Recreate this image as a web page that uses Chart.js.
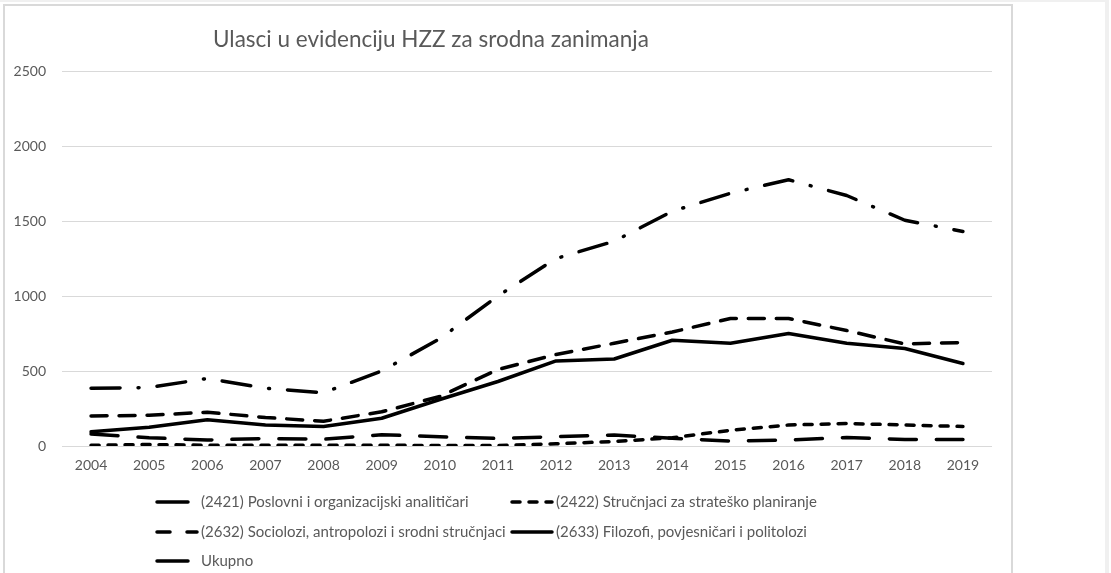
<!DOCTYPE html>
<html>
<head>
<meta charset="utf-8">
<title>Ulasci u evidenciju HZZ za srodna zanimanja</title>
<script src="https://cdn.jsdelivr.net/npm/chart.js@4.4.1/dist/chart.umd.min.js"></script>
<style>
  html, body { margin: 0; padding: 0; background: #fff; }
  body { width: 1111px; height: 573px; position: relative; overflow: hidden; }
  #edge { position: absolute; left: 0; top: 0; width: 1109px; height: 573px; box-sizing: border-box;
          border-top: 2px solid #f0f0f0; border-right: 4px solid #f0f0f0; }
  #frame { position: absolute; left: 3px; top: 4px; width: 1006px; height: 600px;
           border: 2px solid #d9d9d9; border-bottom: none; }
  canvas { position: absolute; left: 0; top: 0; }
</style>
</head>
<body>
<div id="edge"></div>
<div id="frame"></div>
<canvas id="chart" width="1111" height="573"></canvas>
<script>
// values
var years = ['2004', '2005', '2006', '2007', '2008', '2009', '2010', '2011',
             '2012', '2013', '2014', '2015', '2016', '2017', '2018', '2019'];
var poslovni  = [200, 205, 225, 190, 165, 228, 330, 510, 610, 685, 760, 850, 850, 770, 680, 690];
var strateg   = [5, 10, 5, 5, 5, 5, 3, 3, 15, 30, 55, 105, 140, 150, 140, 130];
var sociolozi = [80, 55, 40, 50, 45, 75, 62, 50, 62, 73, 51, 33, 40, 56, 44, 44];
var filozofi  = [95, 125, 175, 140, 130, 185, 310, 430, 567, 580, 705, 685, 750, 685, 650, 550];
var ukupno    = [385, 390, 450, 385, 355, 500, 715, 1000, 1250, 1365, 1565, 1685, 1775, 1670, 1505, 1430];

var seriesNames = [
  '(2421) Poslovni i organizacijski analitičari',
  '(2422) Stručnjaci za strateško planiranje',
  '(2632) Sociolozi, antropolozi i srodni stručnjaci',
  '(2633) Filozofi, povjesničari i politolozi',
  'Ukupno'
];
var chartTitle = 'Ulasci u evidenciju HZZ za srodna zanimanja';
var yMax = 2500;
var yStep = 500;

var textColor = '#595959';
var gridColor = '#d9d9d9';

// legend slots [x, y] - excel puts it in two columns
var legendSlots = [[155, 502], [510, 502], [155, 532], [510, 532], [155, 561]];

function lineSet(label, values, dash, legendDash) {
  return {
    label: label,
    data: values,
    borderColor: '#000',
    backgroundColor: '#000',
    borderWidth: 3.5,
    borderDash: dash,
    legendDash: legendDash,
    borderCapStyle: 'round',
    borderJoinStyle: 'round',
    pointRadius: 0,
    pointHoverRadius: 0,
    tension: 0,
    fill: false
  };
}

const titleAndLegend = {
  id: 'titleAndLegend',
  afterDraw(chart) {
    const ctx = chart.ctx;
    ctx.save();
    ctx.fillStyle = textColor;
    ctx.textAlign = 'left';
    ctx.textBaseline = 'middle';
    ctx.font = '22.5px Lato';
    ctx.fillText(chartTitle, 213, 40);

    ctx.font = '15px Lato';
    legendSlots.forEach(function(slot, i) {
      var ds = chart.data.datasets[i];
      ctx.beginPath();
      ctx.setLineDash(ds.legendDash);
      ctx.lineCap = 'round';
      ctx.lineWidth = ds.borderWidth;
      ctx.strokeStyle = ds.borderColor;
      ctx.moveTo(slot[0] + 2, slot[1]);
      ctx.lineTo(slot[0] + 42, slot[1]);
      ctx.stroke();
      ctx.setLineDash([]);
      ctx.fillText(ds.label, slot[0] + 46, slot[1]);
    });
    ctx.restore();
  }
};

document.addEventListener('DOMContentLoaded', function () {
  const data = {
    labels: years,
    datasets: [
      lineSet(seriesNames[0], poslovni, [16, 12], [31, 100]),
      lineSet(seriesNames[1], strateg, [8, 9], [8, 9]),
      lineSet(seriesNames[2], sociolozi, [27, 20], [13, 17]),
      lineSet(seriesNames[3], filozofi, [], []),
      lineSet(seriesNames[4], ukupno, [29, 18, 1, 18], [31, 100])
    ]
  };

  const config = {
    type: 'line',
    data: data,
    options: {
      responsive: false,
      animation: false,
      layout: { padding: { top: 71, right: 119, bottom: 97, left: 0 } },
      plugins: {
        legend: { display: false },
        title: { display: false },
        tooltip: { enabled: false }
      },
      scales: {
        x: {
          offset: true,
          grid: { display: false, drawTicks: false },
          border: { display: false },
          ticks: { color: textColor, font: { family: 'Lato', size: 14 }, padding: 11, maxRotation: 0 },
          afterFit: function (s) { s.height = 30; }
        },
        y: {
          min: 0,
          max: yMax,
          grid: { color: gridColor, lineWidth: 1, drawTicks: false },
          border: { display: false },
          ticks: {
            stepSize: yStep,
            color: textColor,
            font: { family: 'Lato', size: 14 },
            padding: 16,
            callback: function (v) { return String(v); }
          },
          afterFit: function (s) { s.width = 62; }
        }
      }
    },
    plugins: [titleAndLegend]
  };

  new Chart(document.getElementById('chart'), config);
});
</script>
</body>
</html>
